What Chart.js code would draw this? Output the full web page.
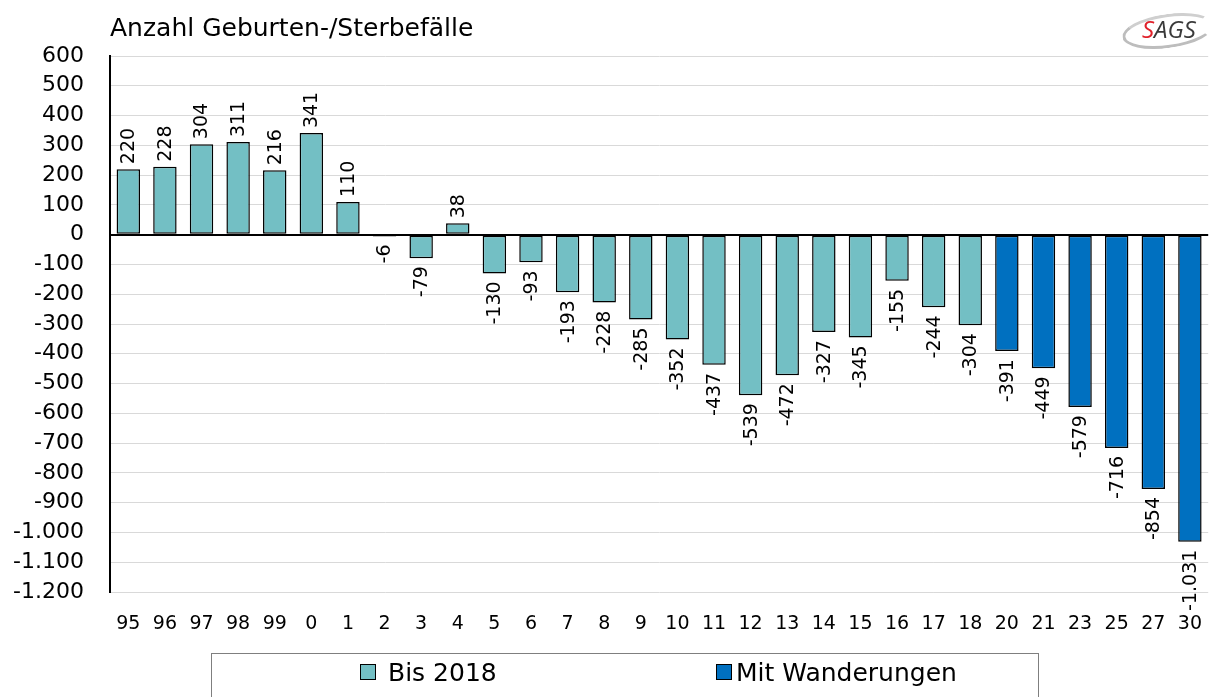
<!DOCTYPE html>
<html>
<head>
<meta charset="utf-8">
<script src="https://cdn.jsdelivr.net/npm/chart.js@4/dist/chart.umd.min.js"></script>
<style>
  html, body { margin:0; padding:0; background:#fff; }
  #wrap { position:relative; width:1223px; height:697px; overflow:hidden; font-family:"DejaVu Sans", sans-serif; }
  #c { position:absolute; left:0; top:0; }
  #title { position:absolute; left:110px; top:13px; font-size:25px; color:#000; white-space:nowrap; }
  #logo { position:absolute; left:1120px; top:8px; width:100px; height:42px; }
  #logo .ring { position:absolute; left:2px; top:6px; width:86px; height:28px; border:3px solid #bdbdbd; border-radius:50%; transform:rotate(-8deg); border-right-color:transparent; border-top-color:#cfcfcf; }
  #logo .txt { position:absolute; left:22px; top:4px; font-family:"Open Sans", sans-serif; font-size:24px; font-style:italic; color:#3a3a3a; }
  #logo .txt b { color:#e0202a; font-weight:normal; }
  #legend { position:absolute; left:211px; top:653px; width:828px; height:60px; border:1px solid #7f7f7f; box-sizing:border-box; }
  .li { position:absolute; top:4px; font-size:25px; white-space:nowrap; }
  .sw { display:inline-block; width:14px; height:14px; border:1px solid #000; vertical-align:1px; margin-right:12px; }
</style>
</head>
<body>
<div id="wrap">
  <canvas id="c" width="1223" height="697"></canvas>
  <div id="title">Anzahl Geburten-/Sterbefälle</div>
  <div id="logo"><div class="ring"></div><div class="txt"><b>S</b>AGS</div></div>
  <div id="legend">
    <div class="li" style="left:148px"><span class="sw" style="background:#73BFC4"></span>Bis 2018</div>
    <div class="li" style="left:504px"><span class="sw" style="background:#0070C0;margin-right:4px"></span>Mit Wanderungen</div>
  </div>
</div>
<script>
const categories = ["95","96","97","98","99","0","1","2","3","4","5","6","7","8","9","10","11","12","13","14","15","16","17","18","20","21","23","25","27","30"];
const bis2018 = [220,228,304,311,216,341,110,-6,-79,38,-130,-93,-193,-228,-285,-352,-437,-539,-472,-327,-345,-155,-244,-304,null,null,null,null,null,null];
const mitWanderungen = [null,null,null,null,null,null,null,null,null,null,null,null,null,null,null,null,null,null,null,null,null,null,null,null,-391,-449,-579,-716,-854,-1031];
const yMin = -1200, yMax = 600, yStep = 100;

function fmt(v){
  const s = Math.abs(v).toString().replace(/\B(?=(\d{3})+(?!\d))/g, ".");
  return (v < 0 ? "-" : "") + s;
}

const FONT = '"DejaVu Sans", sans-serif';

const labelPlugin = {
  id: 'barLabels',
  afterDatasetsDraw(chart){
    const ctx = chart.ctx;
    ctx.save();
    ctx.font = '19px ' + FONT;
    ctx.fillStyle = '#000';
    ctx.textBaseline = 'middle';
    chart.data.datasets.forEach((ds, di) => {
      const meta = chart.getDatasetMeta(di);
      meta.data.forEach((bar, i) => {
        const v = ds.data[i];
        if (v === null || v === undefined) return;
        ctx.save();
        ctx.translate(bar.x, bar.y);
        ctx.rotate(-Math.PI/2);
        if (v >= 0) { ctx.textAlign = 'left'; ctx.fillText(fmt(v), 5, 1); }
        else { ctx.textAlign = 'right'; ctx.fillText(fmt(v), -8, 1); }
        ctx.restore();
      });
    });
    ctx.restore();
  }
};

new Chart(document.getElementById('c'), {
  type: 'bar',
  data: {
    labels: categories,
    datasets: [
      { label: 'Bis 2018', data: bis2018, backgroundColor: '#73BFC4', borderColor: '#000', borderWidth: 1.5, borderSkipped: false, barPercentage: 0.64, categoryPercentage: 1 },
      { label: 'Mit Wanderungen', data: mitWanderungen, backgroundColor: '#0070C0', borderColor: '#000', borderWidth: 1.5, borderSkipped: false, barPercentage: 0.64, categoryPercentage: 1 }
    ]
  },
  options: {
    responsive: false,
    animation: false,
    events: [],
    layout: { padding: { top: 56, right: 1, left: 0, bottom: 0 } },
    plugins: { legend: { display: false }, title: { display: false }, tooltip: { enabled: false } },
    scales: {
      x: {
        stacked: true,
        grid: { display: false, drawTicks: false },
        border: { display: false },
        ticks: { color: '#000', font: { family: FONT, size: 19 }, padding: 21, maxRotation: 0, autoSkip: false },
        afterFit(s){ s.height = 105; }
      },
      y: {
        stacked: true,
        min: yMin, max: yMax,
        grid: { drawTicks: false, color: (c) => c.tick && c.tick.value === 0 ? '#000' : '#d9d9d9', lineWidth: (c) => c.tick && c.tick.value === 0 ? 2 : 1 },
        border: { display: true, color: '#000', width: 2 },
        ticks: { stepSize: yStep, color: '#000', font: { family: FONT, size: 22 }, padding: 26, callback: (v) => fmt(v) },
        afterFit(s){ s.width = 110; }
      }
    }
  },
  plugins: [labelPlugin]
});
</script>
</body>
</html>
